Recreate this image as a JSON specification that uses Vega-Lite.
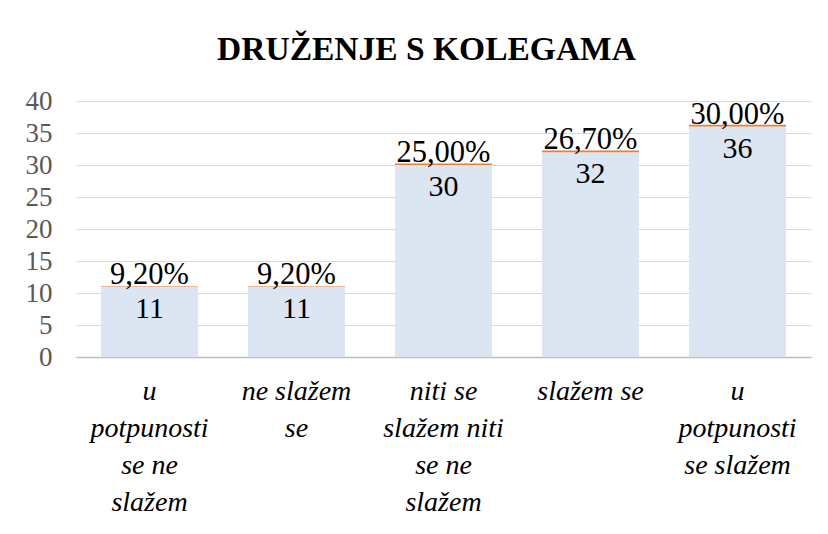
{
  "$schema": "https://vega.github.io/schema/vega-lite/v6.json",
  "width": 735,
  "height": 256,
  "autosize": "none",
  "padding": {"left": 76, "top": 101, "right": 17, "bottom": 177},
  "background": "white",
  "config": {
    "locale": {"number": {"decimal": ",", "thousands": ".", "grouping": [3], "currency": ["", " €"]}},
    "view": {"stroke": null},
    "axisY": {
      "labelFont": "Times New Roman",
      "domain": false,
      "ticks": false,
      "gridColor": "#d9d9d9",
      "gridWidth": 1,
      "labelFontSize": 27,
      "labelColor": "#595959",
      "labelPadding": 24,
      "labelOverlap": false
    },
    "axisX": {
      "labelFont": "Liberation Serif",
      "labelFontStyle": "oblique",
      "labelFontSize": 28,
      "labelColor": "#000000",
      "labelPadding": 20,
      "labelLineHeight": 37,
      "ticks": false,
      "domainColor": "#bfbfbf",
      "domainWidth": 1.5
    }
  },
  "title": {
    "text": "DRUŽENJE S KOLEGAMA",
    "font": "Liberation Serif",
    "fontSize": 33.5,
    "fontWeight": "bold",
    "color": "#000000",
    "anchor": "middle",
    "offset": 20,
    "dx": -17
  },
  "data": {
    "values": [
      {"kategorija": "u potpunosti se ne slažem", "broj": 11, "postotak": 0.092},
      {"kategorija": "ne slažem se", "broj": 11, "postotak": 0.092},
      {"kategorija": "niti se slažem niti se ne slažem", "broj": 30, "postotak": 0.25},
      {"kategorija": "slažem se", "broj": 32, "postotak": 0.267},
      {"kategorija": "u potpunosti se slažem", "broj": 36, "postotak": 0.30}
    ]
  },
  "encoding": {
    "x": {
      "field": "kategorija",
      "type": "nominal",
      "sort": null,
      "scale": {"paddingInner": 0.34, "paddingOuter": 0.17},
      "axis": {
        "title": null,
        "labelAngle": 0,
        "labelLimit": 0,
        "labelBound": false,
        "labelOverlap": false,
        "labelExpr": "datum.value == 'u potpunosti se ne slažem' ? ['u', 'potpunosti', 'se ne', 'slažem'] : datum.value == 'ne slažem se' ? ['ne slažem', 'se'] : datum.value == 'niti se slažem niti se ne slažem' ? ['niti se', 'slažem niti', 'se ne', 'slažem'] : datum.value == 'slažem se' ? ['slažem se'] : ['u', 'potpunosti', 'se slažem']"
      }
    }
  },
  "layer": [
    {
      "transform": [{"fold": ["broj", "postotak"], "as": ["serija", "vrijednost"]}],
      "mark": {"type": "bar"},
      "encoding": {
        "y": {
          "field": "vrijednost",
          "type": "quantitative",
          "stack": "zero",
          "scale": {"domain": [0, 40], "nice": false},
          "axis": {"title": null, "values": [0, 5, 10, 15, 20, 25, 30, 35, 40]}
        },
        "color": {
          "field": "serija",
          "type": "nominal",
          "scale": {"domain": ["broj", "postotak"], "range": ["#dce6f2", "#ed7d31"]},
          "legend": null
        },
        "order": {"field": "serija", "sort": "ascending"}
      }
    },
    {
      "mark": {"type": "text", "baseline": "middle", "dy": 22, "fontSize": 30, "font": "Liberation Serif", "color": "#000000"},
      "encoding": {
        "y": {"field": "broj", "type": "quantitative", "axis": {"title": null, "values": [0, 5, 10, 15, 20, 25, 30, 35, 40]}},
        "text": {"field": "broj", "type": "quantitative", "format": "d"}
      }
    },
    {
      "mark": {"type": "text", "baseline": "alphabetic", "dy": -3, "fontSize": 30.5, "font": "Liberation Serif", "color": "#000000"},
      "encoding": {
        "y": {"field": "broj", "type": "quantitative", "axis": {"title": null, "values": [0, 5, 10, 15, 20, 25, 30, 35, 40]}},
        "text": {"field": "postotak", "type": "quantitative", "format": ".2%"}
      }
    }
  ]
}
